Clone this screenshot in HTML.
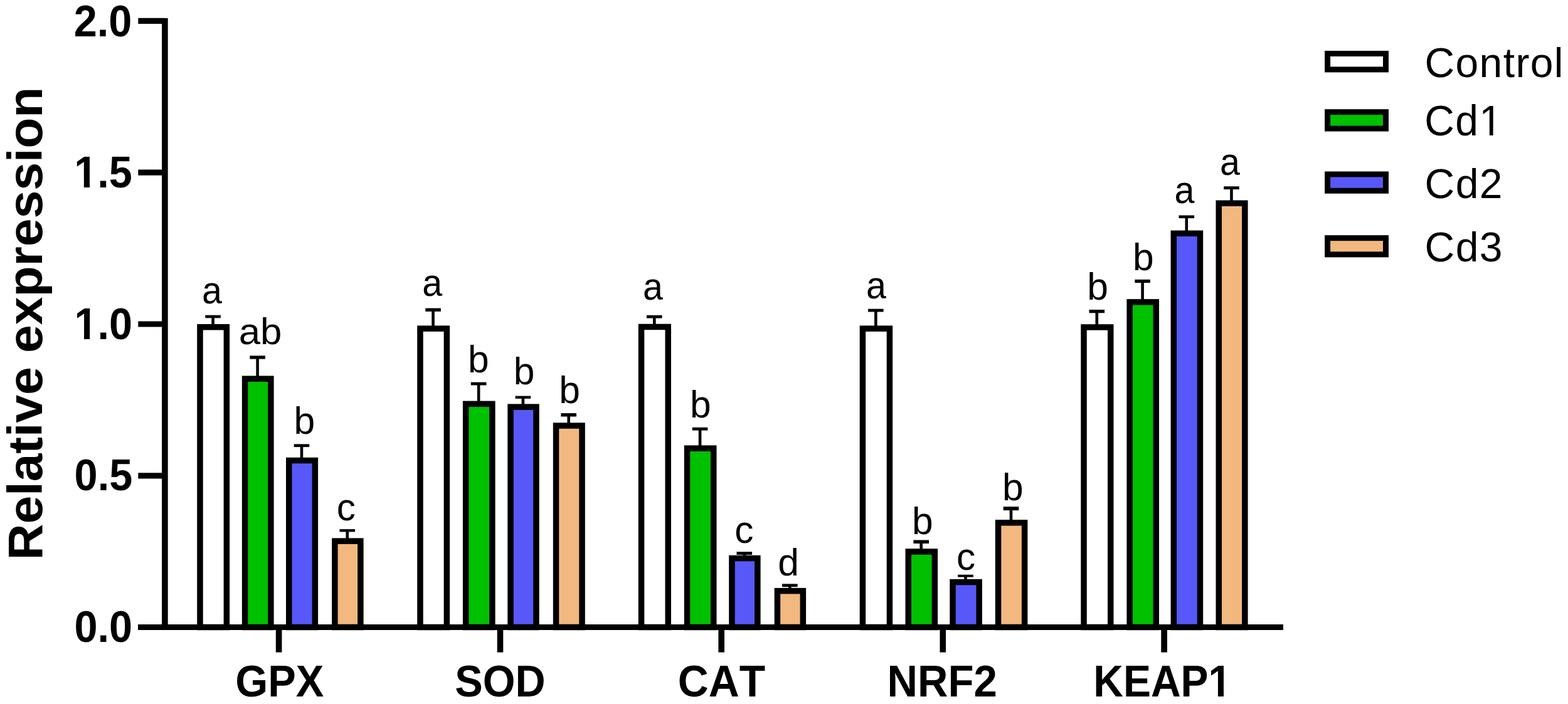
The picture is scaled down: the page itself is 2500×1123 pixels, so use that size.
<!DOCTYPE html><html><head><meta charset="utf-8"><title>Relative expression</title><style>html,body{margin:0;padding:0;background:#fff;}body{width:2500px;height:1123px;overflow:hidden;}svg{display:block;}text{font-family:"Liberation Sans", Arial, Helvetica, sans-serif;font-kerning:none;}</style></head><body>
<svg width="2500" height="1123" viewBox="0 0 2500 1123">
<rect x="0" y="0" width="2500" height="1123" fill="#fff"/>
<rect x="318.95" y="521.75" width="42.40" height="478.75" fill="#ffffff" stroke="#000" stroke-width="9.5"/>
<line x1="339.55" y1="519.00" x2="339.55" y2="503.70" stroke="#000" stroke-width="4.6"/>
<line x1="327.25" y1="505.00" x2="351.85" y2="505.00" stroke="#000" stroke-width="4.60"/>
<text transform="translate(322.03,483.60) scale(0.9500,1.0000)" x="0" y="0" font-size="60.5" font-weight="normal" fill="#000">a</text>
<rect x="390.55" y="604.25" width="41.30" height="396.25" fill="#00c000" stroke="#000" stroke-width="9.5"/>
<line x1="410.60" y1="601.50" x2="410.60" y2="568.40" stroke="#000" stroke-width="4.6"/>
<line x1="398.30" y1="570.05" x2="422.90" y2="570.05" stroke="#000" stroke-width="5.30"/>
<text transform="translate(380.64,548.70) scale(1.0210,0.9932)" x="0" y="0" font-size="60.5" font-weight="normal" fill="#000">ab</text>
<rect x="460.75" y="734.55" width="41.60" height="265.95" fill="#5858f8" stroke="#000" stroke-width="9.5"/>
<line x1="480.95" y1="731.80" x2="480.95" y2="709.40" stroke="#000" stroke-width="4.6"/>
<line x1="468.65" y1="710.75" x2="493.25" y2="710.75" stroke="#000" stroke-width="4.70"/>
<text transform="translate(468.60,691.70) scale(1.0000,1.0000)" x="0" y="0" font-size="60.5" font-weight="normal" fill="#000">b</text>
<rect x="533.85" y="863.15" width="41.00" height="137.35" fill="#f2b880" stroke="#000" stroke-width="9.5"/>
<line x1="553.75" y1="860.40" x2="553.75" y2="845.10" stroke="#000" stroke-width="4.6"/>
<line x1="541.45" y1="846.25" x2="566.05" y2="846.25" stroke="#000" stroke-width="4.30"/>
<text transform="translate(536.85,829.65) scale(1.0000,1.0000)" x="0" y="0" font-size="60.5" font-weight="normal" fill="#000">c</text>
<rect x="669.95" y="524.15" width="42.40" height="476.35" fill="#ffffff" stroke="#000" stroke-width="9.5"/>
<line x1="690.55" y1="521.40" x2="690.55" y2="492.60" stroke="#000" stroke-width="4.6"/>
<line x1="678.25" y1="494.25" x2="702.85" y2="494.25" stroke="#000" stroke-width="5.30"/>
<text transform="translate(673.17,472.05) scale(0.9500,1.0000)" x="0" y="0" font-size="60.5" font-weight="normal" fill="#000">a</text>
<rect x="742.65" y="644.35" width="42.20" height="356.15" fill="#00c000" stroke="#000" stroke-width="9.5"/>
<line x1="763.15" y1="641.60" x2="763.15" y2="610.70" stroke="#000" stroke-width="4.6"/>
<line x1="750.85" y1="612.10" x2="775.45" y2="612.10" stroke="#000" stroke-width="4.80"/>
<text transform="translate(746.05,594.05) scale(1.0000,1.0000)" x="0" y="0" font-size="60.5" font-weight="normal" fill="#000">b</text>
<rect x="814.05" y="649.15" width="40.90" height="351.35" fill="#5858f8" stroke="#000" stroke-width="9.5"/>
<line x1="833.90" y1="646.40" x2="833.90" y2="632.60" stroke="#000" stroke-width="4.6"/>
<line x1="821.60" y1="633.75" x2="846.20" y2="633.75" stroke="#000" stroke-width="4.30"/>
<text transform="translate(818.85,612.75) scale(1.0000,1.0000)" x="0" y="0" font-size="60.5" font-weight="normal" fill="#000">b</text>
<rect x="886.55" y="679.05" width="41.50" height="321.45" fill="#f2b880" stroke="#000" stroke-width="9.5"/>
<line x1="906.70" y1="676.30" x2="906.70" y2="660.10" stroke="#000" stroke-width="4.6"/>
<line x1="894.40" y1="661.80" x2="919.00" y2="661.80" stroke="#000" stroke-width="5.40"/>
<text transform="translate(891.25,643.30) scale(1.0000,1.0000)" x="0" y="0" font-size="60.5" font-weight="normal" fill="#000">b</text>
<rect x="1022.55" y="521.45" width="42.70" height="479.05" fill="#ffffff" stroke="#000" stroke-width="9.5"/>
<line x1="1043.30" y1="518.70" x2="1043.30" y2="503.80" stroke="#000" stroke-width="4.6"/>
<line x1="1031.00" y1="505.20" x2="1055.60" y2="505.20" stroke="#000" stroke-width="4.80"/>
<text transform="translate(1025.12,477.80) scale(0.9500,1.0000)" x="0" y="0" font-size="60.5" font-weight="normal" fill="#000">a</text>
<rect x="1095.55" y="715.15" width="42.20" height="285.35" fill="#00c000" stroke="#000" stroke-width="9.5"/>
<line x1="1116.05" y1="712.40" x2="1116.05" y2="682.80" stroke="#000" stroke-width="4.6"/>
<line x1="1103.75" y1="684.20" x2="1128.35" y2="684.20" stroke="#000" stroke-width="4.80"/>
<text transform="translate(1100.05,665.50) scale(1.0000,1.0000)" x="0" y="0" font-size="60.5" font-weight="normal" fill="#000">b</text>
<rect x="1166.95" y="890.55" width="40.90" height="109.95" fill="#5858f8" stroke="#000" stroke-width="9.5"/>
<line x1="1186.80" y1="887.80" x2="1186.80" y2="881.20" stroke="#000" stroke-width="4.6"/>
<line x1="1174.50" y1="882.60" x2="1199.10" y2="882.60" stroke="#000" stroke-width="4.80"/>
<text transform="translate(1171.20,865.70) scale(1.0000,1.0000)" x="0" y="0" font-size="60.5" font-weight="normal" fill="#000">c</text>
<rect x="1239.45" y="942.65" width="40.90" height="57.85" fill="#f2b880" stroke="#000" stroke-width="9.5"/>
<line x1="1259.30" y1="939.90" x2="1259.30" y2="932.40" stroke="#000" stroke-width="4.6"/>
<line x1="1247.00" y1="933.80" x2="1271.60" y2="933.80" stroke="#000" stroke-width="4.80"/>
<text transform="translate(1240.30,917.77) scale(1.0000,1.0000)" x="0" y="0" font-size="60.5" font-weight="normal" fill="#000">d</text>
<rect x="1375.45" y="524.15" width="43.00" height="476.35" fill="#ffffff" stroke="#000" stroke-width="9.5"/>
<line x1="1396.35" y1="521.40" x2="1396.35" y2="493.70" stroke="#000" stroke-width="4.6"/>
<line x1="1384.05" y1="495.10" x2="1408.65" y2="495.10" stroke="#000" stroke-width="4.80"/>
<text transform="translate(1381.12,475.65) scale(0.9500,1.0000)" x="0" y="0" font-size="60.5" font-weight="normal" fill="#000">a</text>
<rect x="1448.25" y="879.95" width="42.10" height="120.55" fill="#00c000" stroke="#000" stroke-width="9.5"/>
<line x1="1468.70" y1="877.20" x2="1468.70" y2="862.50" stroke="#000" stroke-width="4.6"/>
<line x1="1456.40" y1="864.25" x2="1481.00" y2="864.25" stroke="#000" stroke-width="5.50"/>
<text transform="translate(1453.90,851.65) scale(1.0000,1.0000)" x="0" y="0" font-size="60.5" font-weight="normal" fill="#000">b</text>
<rect x="1519.05" y="928.55" width="42.10" height="71.95" fill="#5858f8" stroke="#000" stroke-width="9.5"/>
<line x1="1539.50" y1="925.80" x2="1539.50" y2="917.70" stroke="#000" stroke-width="4.6"/>
<line x1="1527.20" y1="918.65" x2="1551.80" y2="918.65" stroke="#000" stroke-width="3.90"/>
<text transform="translate(1525.00,909.00) scale(1.0000,1.0000)" x="0" y="0" font-size="60.5" font-weight="normal" fill="#000">c</text>
<rect x="1591.55" y="833.85" width="42.10" height="166.65" fill="#f2b880" stroke="#000" stroke-width="9.5"/>
<line x1="1612.00" y1="831.10" x2="1612.00" y2="809.20" stroke="#000" stroke-width="4.6"/>
<line x1="1599.70" y1="811.15" x2="1624.30" y2="811.15" stroke="#000" stroke-width="5.90"/>
<text transform="translate(1597.90,797.95) scale(1.0000,1.0000)" x="0" y="0" font-size="60.5" font-weight="normal" fill="#000">b</text>
<rect x="1728.05" y="521.95" width="42.70" height="478.55" fill="#ffffff" stroke="#000" stroke-width="9.5"/>
<line x1="1748.80" y1="519.20" x2="1748.80" y2="495.00" stroke="#000" stroke-width="4.6"/>
<line x1="1736.50" y1="496.65" x2="1761.10" y2="496.65" stroke="#000" stroke-width="5.30"/>
<text transform="translate(1733.25,477.75) scale(1.0000,1.0000)" x="0" y="0" font-size="60.5" font-weight="normal" fill="#000">b</text>
<rect x="1801.15" y="481.85" width="42.10" height="518.65" fill="#00c000" stroke="#000" stroke-width="9.5"/>
<line x1="1821.60" y1="479.10" x2="1821.60" y2="446.90" stroke="#000" stroke-width="4.6"/>
<line x1="1809.30" y1="448.55" x2="1833.90" y2="448.55" stroke="#000" stroke-width="5.30"/>
<text transform="translate(1806.05,431.25) scale(1.0000,1.0000)" x="0" y="0" font-size="60.5" font-weight="normal" fill="#000">b</text>
<rect x="1871.35" y="372.35" width="42.10" height="628.15" fill="#5858f8" stroke="#000" stroke-width="9.5"/>
<line x1="1891.80" y1="369.60" x2="1891.80" y2="344.50" stroke="#000" stroke-width="4.6"/>
<line x1="1879.50" y1="345.80" x2="1904.10" y2="345.80" stroke="#000" stroke-width="4.60"/>
<text transform="translate(1872.47,324.10) scale(0.9500,1.0000)" x="0" y="0" font-size="60.5" font-weight="normal" fill="#000">a</text>
<rect x="1943.25" y="324.25" width="41.60" height="676.25" fill="#f2b880" stroke="#000" stroke-width="9.5"/>
<line x1="1963.45" y1="321.50" x2="1963.45" y2="298.30" stroke="#000" stroke-width="4.6"/>
<line x1="1951.15" y1="299.70" x2="1975.75" y2="299.70" stroke="#000" stroke-width="4.80"/>
<text transform="translate(1944.92,279.10) scale(0.9500,1.0000)" x="0" y="0" font-size="60.5" font-weight="normal" fill="#000">a</text>
<line x1="220" y1="1000.5" x2="2046" y2="1000.5" stroke="#000" stroke-width="9.2"/>
<line x1="262.9" y1="29" x2="262.9" y2="1005.1" stroke="#000" stroke-width="9.6"/>
<line x1="220.3" y1="33.4" x2="263" y2="33.4" stroke="#000" stroke-width="9.2"/>
<line x1="220.3" y1="275.2" x2="263" y2="275.2" stroke="#000" stroke-width="9.2"/>
<line x1="220.3" y1="517.0" x2="263" y2="517.0" stroke="#000" stroke-width="9.2"/>
<line x1="220.3" y1="758.8" x2="263" y2="758.8" stroke="#000" stroke-width="9.2"/>
<text transform="translate(117.81,58.30) scale(0.9943,1.0435)" x="0" y="0" font-size="67" font-weight="bold" fill="#000">2.0</text>
<text transform="translate(118.32,299.20) scale(0.9943,1.0435)" x="0" y="0" font-size="67" font-weight="bold" fill="#000">1.5</text>
<text transform="translate(118.51,540.80) scale(0.9943,1.0435)" x="0" y="0" font-size="67" font-weight="bold" fill="#000">1.0</text>
<text transform="translate(118.62,782.00) scale(0.9943,1.0435)" x="0" y="0" font-size="67" font-weight="bold" fill="#000">0.5</text>
<text transform="translate(118.51,1023.50) scale(0.9943,1.0435)" x="0" y="0" font-size="67" font-weight="bold" fill="#000">0.0</text>
<line x1="444.6" y1="1000.5" x2="444.6" y2="1040.6" stroke="#000" stroke-width="9.6"/>
<line x1="797.5" y1="1000.5" x2="797.5" y2="1040.6" stroke="#000" stroke-width="9.6"/>
<line x1="1150.2" y1="1000.5" x2="1150.2" y2="1040.6" stroke="#000" stroke-width="9.6"/>
<line x1="1503.3" y1="1000.5" x2="1503.3" y2="1040.6" stroke="#000" stroke-width="9.6"/>
<line x1="1856.1" y1="1000.5" x2="1856.1" y2="1040.6" stroke="#000" stroke-width="9.6"/>
<text transform="translate(375.31,1111.40) scale(0.9971,1.0500)" x="0" y="0" font-size="67" font-weight="bold" fill="#000">GPX</text>
<text transform="translate(725.21,1111.40) scale(0.9950,1.0500)" x="0" y="0" font-size="67" font-weight="bold" fill="#000">SOD</text>
<text transform="translate(1080.76,1111.40) scale(1.0119,1.0500)" x="0" y="0" font-size="67" font-weight="bold" fill="#000">CAT</text>
<text transform="translate(1414.49,1111.40) scale(1.0030,1.0500)" x="0" y="0" font-size="67" font-weight="bold" fill="#000">NRF2</text>
<text transform="translate(1743.26,1111.40) scale(0.9850,1.0500)" x="0" y="0" font-size="67" font-weight="bold" fill="#000">KEAP1</text>
<text transform="translate(67.09,893.42) rotate(-90) scale(1.0046,0.9827)" x="0" y="0" font-size="80" font-weight="bold" fill="#000">Relative expression</text>
<rect x="2116.60" y="85.50" width="92.90" height="25.40" fill="#ffffff" stroke="#000" stroke-width="9.0"/>
<text transform="translate(2271.40,122.90) scale(1.0000,1.0104)" x="0" y="0" font-size="66" font-weight="normal" fill="#000" letter-spacing="1.4">Control</text>
<rect x="2116.60" y="178.70" width="92.90" height="26.40" fill="#00c000" stroke="#000" stroke-width="9.0"/>
<text transform="translate(2271.20,216.20) scale(1.0000,1.0312)" x="0" y="0" font-size="66" font-weight="normal" fill="#000" letter-spacing="1.4">Cd1</text>
<rect x="2116.60" y="278.00" width="92.90" height="26.30" fill="#5858f8" stroke="#000" stroke-width="9.0"/>
<text transform="translate(2271.60,315.90) scale(1.0000,1.0021)" x="0" y="0" font-size="66" font-weight="normal" fill="#000" letter-spacing="1.4">Cd2</text>
<rect x="2116.60" y="379.70" width="92.90" height="26.20" fill="#f2b880" stroke="#000" stroke-width="9.0"/>
<text transform="translate(2271.60,417.30) scale(1.0000,1.0083)" x="0" y="0" font-size="66" font-weight="normal" fill="#000" letter-spacing="1.4">Cd3</text>
<rect x="117.00" y="290.55" width="16.80" height="9.95" fill="#fff"/>
<rect x="143.00" y="290.55" width="15.00" height="9.95" fill="#fff"/>
<rect x="117.00" y="532.55" width="17.00" height="9.95" fill="#fff"/>
<rect x="143.18" y="532.55" width="14.82" height="9.95" fill="#fff"/>
<rect x="1926.00" y="1102.55" width="15.91" height="9.95" fill="#fff"/>
<rect x="1951.00" y="1102.55" width="16.00" height="9.95" fill="#fff"/>
<rect x="2357.00" y="209.55" width="17.83" height="7.95" fill="#fff"/>
<rect x="2380.64" y="209.55" width="16.36" height="7.95" fill="#fff"/>
</svg></body></html>
